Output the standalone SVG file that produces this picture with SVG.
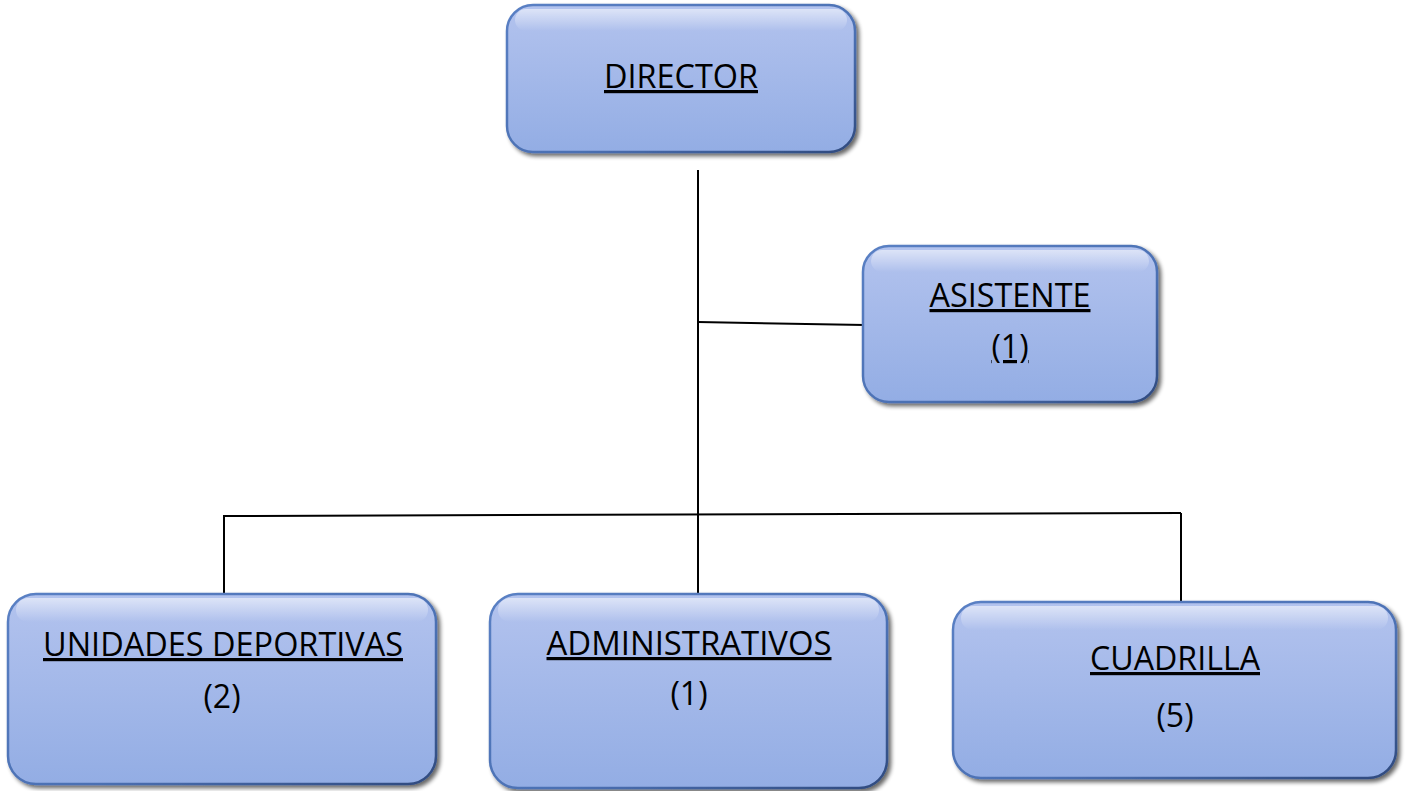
<svg xmlns="http://www.w3.org/2000/svg" width="1407" height="791" viewBox="0 0 1407 791">
<defs>
<linearGradient id="fill" x1="0" y1="0" x2="0" y2="1">
<stop offset="0" stop-color="#b3c3ee"/>
<stop offset="1" stop-color="#93ade4"/>
</linearGradient>
<linearGradient id="edge" x1="0" y1="0" x2="1" y2="1">
<stop offset="0" stop-color="#5a80c4"/>
<stop offset="0.6" stop-color="#4b70b3"/>
<stop offset="1" stop-color="#2f4a7e"/>
</linearGradient>
<linearGradient id="hl" x1="0" y1="0" x2="0" y2="1">
<stop offset="0" stop-color="#ffffff" stop-opacity="0.55"/>
<stop offset="1" stop-color="#ffffff" stop-opacity="0"/>
</linearGradient>
<filter id="sh" x="-10%" y="-10%" width="125%" height="130%">
<feGaussianBlur in="SourceAlpha" stdDeviation="2"/>
<feOffset dx="3" dy="3" result="b"/>
<feComponentTransfer><feFuncA type="linear" slope="0.6"/></feComponentTransfer>
<feMerge><feMergeNode/><feMergeNode in="SourceGraphic"/></feMerge>
</filter>
</defs>
<style>
.box{fill:url(#fill);stroke:url(#edge);stroke-width:2.5;filter:url(#sh)}
.hl{fill:url(#hl)}
.t{font-family:"Open Sans","Liberation Sans",sans-serif;font-size:32px;fill:#000;text-anchor:middle}
.u{text-decoration:underline;text-decoration-skip-ink:none}
.c{stroke:#000;stroke-width:2;fill:none}
</style>
<g id="connectors">
<line class="c" x1="698" y1="170" x2="698" y2="596"/>
<line class="c" x1="698" y1="322" x2="865" y2="325"/>
<line class="c" x1="223" y1="516" x2="1181" y2="513"/>
<line class="c" x1="224" y1="516" x2="224" y2="594"/>
<line class="c" x1="1181" y1="513" x2="1181" y2="601"/>
</g>
<g id="director">
<rect class="box" x="507" y="5" width="348" height="147" rx="26"/>
<rect class="hl" x="515" y="9" width="332" height="22" rx="11"/>
<text class="t u" x="681" y="88" textLength="154" lengthAdjust="spacingAndGlyphs">DIRECTOR</text>
</g>
<g id="asistente">
<rect class="box" x="863" y="246" width="294" height="156" rx="26"/>
<rect class="hl" x="871" y="250" width="278" height="22" rx="11"/>
<text class="t u" x="1010" y="307" textLength="161" lengthAdjust="spacingAndGlyphs">ASISTENTE</text>
<text class="t u" x="1010" y="358">(1)</text>
</g>
<g id="unidades">
<rect class="box" x="8" y="594" width="428" height="190" rx="28"/>
<rect class="hl" x="16" y="598" width="412" height="24" rx="12"/>
<text class="t u" x="223" y="656" textLength="360" lengthAdjust="spacingAndGlyphs">UNIDADES DEPORTIVAS</text>
<text class="t" x="222" y="708">(2)</text>
</g>
<g id="administrativos">
<rect class="box" x="490" y="594" width="397" height="194" rx="28"/>
<rect class="hl" x="498" y="598" width="381" height="24" rx="12"/>
<text class="t u" x="689" y="655" textLength="285" lengthAdjust="spacingAndGlyphs">ADMINISTRATIVOS</text>
<text class="t" x="689" y="705">(1)</text>
</g>
<g id="cuadrilla">
<rect class="box" x="953" y="602" width="443" height="176" rx="28"/>
<rect class="hl" x="961" y="606" width="427" height="24" rx="12"/>
<text class="t u" x="1175" y="670" textLength="170" lengthAdjust="spacingAndGlyphs">CUADRILLA</text>
<text class="t" x="1175" y="727" font-size="35">(5)</text>
</g>
</svg>
